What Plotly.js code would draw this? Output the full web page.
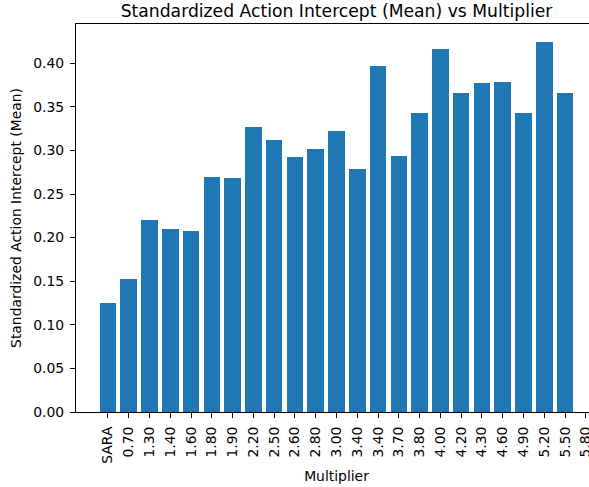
<!DOCTYPE html>
<html>
<head>
<meta charset="utf-8">
<script src="https://cdn.plot.ly/plotly-3.0.1.min.js"></script>
<style>
html, body { margin: 0; padding: 0; overflow: hidden; background: #fff; }
#chart { width: 640px; height: 487px; }
</style>
</head>
<body>
<div id="chart"></div>
<script>
// Bar categories (one per bar) and values
const categories = ["SARA", "0.70", "1.30", "1.40", "1.60", "1.80", "1.90", "2.20", "2.50", "2.60",
  "2.80", "3.00", "3.40", "3.40", "3.70", "3.80", "4.00", "4.20", "4.30", "4.60", "4.90", "5.20", "5.50"];
const values = [0.125, 0.152, 0.220, 0.210, 0.208, 0.270, 0.268, 0.327, 0.312, 0.292,
  0.302, 0.322, 0.279, 0.397, 0.294, 0.343, 0.416, 0.366, 0.377, 0.378, 0.343, 0.424, 0.366];
// Tick labels as shown on the x axis (one more than the bars)
const tickLabels = ["SARA", "0.70", "1.30", "1.40", "1.60", "1.80", "1.90", "2.20", "2.50", "2.60",
  "2.80", "3.00", "3.40", "3.40", "3.70", "3.80", "4.00", "4.20", "4.30", "4.60", "4.90", "5.20", "5.50", "5.80"];

const xPos = categories.map((_, i) => i);
const tickPos = tickLabels.map((_, i) => i);

const font = { family: "DejaVu Sans", size: 13.9, color: "#000" };

const trace = {
  type: "bar",
  x: xPos,
  y: values,
  hovertext: categories,
  textposition: "none",
  width: 0.8,
  marker: { color: "#1f77b4", line: { width: 0 } }
};

const layout = {
  width: 640,
  height: 487,
  margin: { l: 76, r: 43, t: 24, b: 75 },
  paper_bgcolor: "#fff",
  plot_bgcolor: "#fff",
  font: font,
  showlegend: false,
  bargap: 0,
  title: {
    text: "Standardized Action Intercept (Mean) vs Multiplier",
    font: { family: "DejaVu Sans", size: 17.2, color: "#000" },
    xref: "paper", x: 0.5, xanchor: "center",
    yref: "container", y: 1 - 11 / 487, yanchor: "middle"
  },
  xaxis: {
    range: [-1.54, 23.54],
    tickmode: "array",
    tickvals: tickPos,
    ticktext: tickLabels,
    tickangle: -90,
    ticks: "outside", ticklen: 5, tickwidth: 1, tickcolor: "#000",
    ticklabelstandoff: 3,
    showline: true, linecolor: "#000", linewidth: 1, mirror: true,
    showgrid: false, zeroline: false,
    tickfont: font,
    title: { text: "Multiplier", font: font, standoff: 8 }
  },
  yaxis: {
    range: [0, 0.445],
    tickmode: "linear", tick0: 0, dtick: 0.05,
    tickformat: ".2f",
    ticks: "outside", ticklen: 5, tickwidth: 1, tickcolor: "#000",
    ticklabelstandoff: 3,
    showline: true, linecolor: "#000", linewidth: 1, mirror: true,
    showgrid: false, zeroline: false,
    tickfont: font,
    title: { text: "Standardized Action Intercept (Mean)", font: font, standoff: 8 }
  }
};

Plotly.newPlot("chart", [trace], layout, { displayModeBar: false, staticPlot: true });
</script>
</body>
</html>
